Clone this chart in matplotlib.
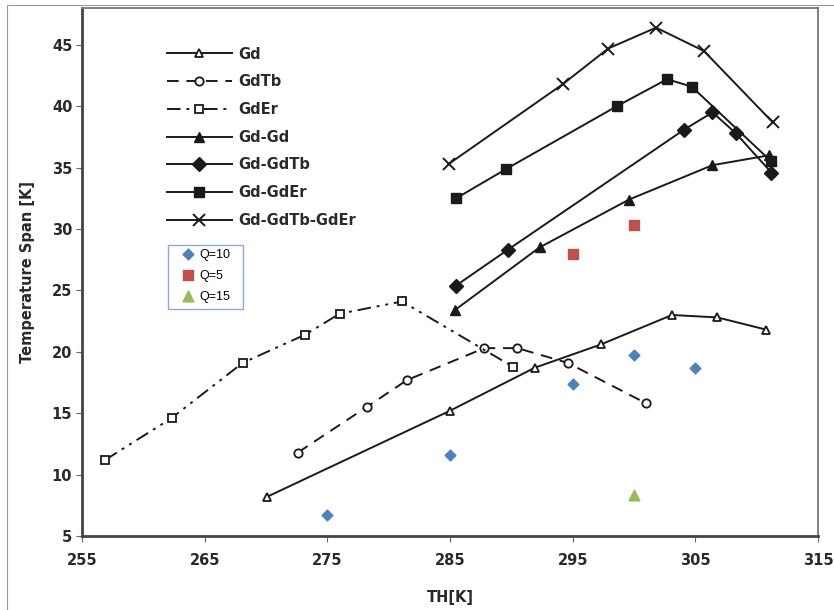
"""
Temperature span versus hot-side temperature for several regenerator
materials, with a few simulated points overlaid.
"""

import matplotlib.pyplot as plt
from matplotlib.patches import Rectangle

plt.rcParams["font.family"] = ["DejaVu Sans"]

# Measured curves (TH [K], span [K])
gd_t = [270.1, 285.0, 291.9, 297.3, 303.1, 306.8, 310.8]
gd_v = [8.2, 15.2, 18.7, 20.6, 23.0, 22.8, 21.8]

gdtb_t = [272.6, 278.2, 281.5, 287.8, 290.5, 294.6, 301.0]
gdtb_v = [11.8, 15.5, 17.7, 20.3, 20.3, 19.1, 15.8]

gder_t = [256.9, 262.3, 268.1, 273.2, 276.0, 281.1, 290.1]
gder_v = [11.2, 14.6, 19.1, 21.4, 23.1, 24.1, 18.8]

gdgd_t = [285.4, 292.3, 299.6, 306.4, 311.0]
gdgd_v = [23.4, 28.5, 32.4, 35.2, 36.0]

gdgdtb_t = [285.5, 289.7, 304.1, 306.4, 308.3, 311.2]
gdgdtb_v = [25.4, 28.3, 38.1, 39.5, 37.8, 34.6]

gdgder_t = [285.5, 289.6, 298.6, 302.7, 304.7, 311.2]
gdgder_v = [32.5, 34.9, 40.0, 42.2, 41.6, 35.5]

gdall_t = [284.9, 294.2, 297.9, 301.8, 305.7, 311.3]
gdall_v = [35.3, 41.8, 44.7, 46.4, 44.5, 38.7]

# Simulated points
q10_t = [275, 285, 295, 300, 305]
q10_v = [6.7, 11.6, 17.4, 19.7, 18.7]
q5_t = [295, 300]
q5_v = [28.0, 30.3]
q15_t = [300]
q15_v = [8.3]


if __name__ == "__main__":
    fig = plt.figure(figsize=(8.34, 6.10), dpi=100)
    ax = fig.add_axes([0.0983, 0.1213, 0.8825, 0.8656])

    # thin grey border of the scanned figure
    fig.patches.append(Rectangle((0.008, -0.01), 1.0, 1.002, transform=fig.transFigure,
                                 fill=False, edgecolor="#9a9a9a", linewidth=0.8))

    k = "#1a1a1a"
    txt = "#2a2a2a"
    lw = 1.4
    dashdotdot = (0, (7, 3, 1.5, 3, 1.5, 3))

    ax.plot(gd_t, gd_v, color=k, lw=lw, marker="^", ms=6, mfc="white", mec=k, mew=1.3, label="Gd")
    ax.plot(gdtb_t, gdtb_v, color=k, lw=lw, ls=(0, (6, 4)), marker="o", ms=6, mfc="white", mec=k,
            mew=1.3, label="GdTb")
    ax.plot(gder_t, gder_v, color=k, lw=lw, ls=dashdotdot, marker="s", ms=5.5, mfc="white", mec=k,
            mew=1.3, label="GdEr")
    ax.plot(gdgd_t, gdgd_v, color=k, lw=lw, marker="^", ms=7, mfc=k, mec=k, label="Gd-Gd")
    ax.plot(gdgdtb_t, gdgdtb_v, color=k, lw=lw, marker="D", ms=7, mfc=k, mec=k, label="Gd-GdTb")
    ax.plot(gdgder_t, gdgder_v, color=k, lw=lw, marker="s", ms=6.5, mfc=k, mec=k, label="Gd-GdEr")
    ax.plot(gdall_t, gdall_v, color=k, lw=lw, marker="x", ms=8.5, mew=1.4, mec=k,
            label="Gd-GdTb-GdEr")

    leg1 = ax.legend(loc="upper left", bbox_to_anchor=(0.107, 0.938), borderaxespad=0,
                     frameon=False, handlelength=4.5, handletextpad=0.4, labelspacing=0.87,
                     prop={"size": 10.5, "weight": "bold"})
    for t in leg1.get_texts():
        t.set_color(txt)
    ax.add_artist(leg1)

    s1 = ax.scatter(q10_t, q10_v, marker="D", s=30, color="#4f81bd", zorder=5, label="Q=10")
    s2 = ax.scatter(q5_t, q5_v, marker="s", s=55, color="#c0504d", zorder=5, label="Q=5")
    s3 = ax.scatter(q15_t, q15_v, marker="^", s=60, color="#9bbb59", zorder=5, label="Q=15")

    leg2 = ax.legend(handles=[s1, s2, s3], loc="upper left", bbox_to_anchor=(0.136, 0.5445),
                     frameon=False, handlelength=1.0, handletextpad=0.35, labelspacing=0.72,
                     borderpad=0, borderaxespad=0,
                     prop={"family": "Liberation Sans", "size": 9})
    # box drawn around the small legend
    fig.patches.append(Rectangle((168 / 834, 1 - 309 / 610), 75 / 834, 64 / 610,
                                 transform=fig.transFigure, fill=False,
                                 edgecolor="#8ea9d8", linewidth=1.0))

    ax.set_xlim(255, 315)
    ax.set_ylim(5, 48)
    ax.set_xticks(range(255, 316, 10))
    ax.set_yticks(range(5, 46, 5))
    ax.tick_params(direction="out", length=4, width=0.8, colors="#666666", labelcolor=txt,
                   labelsize=10.5, pad=3)
    ax.tick_params(axis="x", pad=8)
    for lab in ax.get_xticklabels() + ax.get_yticklabels():
        lab.set_fontweight("bold")

    for side in ["left", "bottom"]:
        ax.spines[side].set_color("#444444")
        ax.spines[side].set_linewidth(2.0)
    for side in ["top", "right"]:
        ax.spines[side].set_color("#777777")
        ax.spines[side].set_linewidth(1.3)

    ax.set_xlabel("TH[K]", fontsize=10.5, fontweight="bold", color=txt, labelpad=16)
    ax.set_ylabel("Temperature Span [K]", fontsize=10.5, fontweight="bold", color=txt,
                  labelpad=12)

    plt.savefig("out.png", dpi=100)
